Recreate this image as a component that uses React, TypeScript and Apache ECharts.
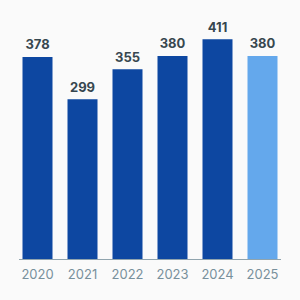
import React, { useEffect, useRef } from "react";
import * as echarts from "echarts";

const years = ["2020", "2021", "2022", "2023", "2024", "2025"];
const values = [378, 299, 355, 380, 411, 380];
const highlight = [false, false, false, false, false, true];

export default function App() {
  const ref = useRef<HTMLDivElement>(null);
  useEffect(() => {
    const chart = echarts.init(ref.current!, null, { renderer: "svg" });
    chart.setOption({
      animation: false,
      backgroundColor: "#fafafa",
      grid: { left: 15, right: 15, top: 18.5, bottom: 41 },
      xAxis: {
        type: "category",
        data: years,
        axisLine: { show: false },
        axisTick: { show: false },
        axisLabel: {
          color: "#78909c",
          fontSize: 13,
          fontFamily: "Inter",
          margin: 8,
        },
      },
      yAxis: {
        type: "value",
        min: 0,
        max: 450,
        show: false,
        splitLine: { show: false },
      },
      graphic: [
        {
          type: "line",
          shape: { x1: 19, y1: 259.5, x2: 281, y2: 259.5 },
          style: { stroke: "#90a4ae", lineWidth: 1 },
          z: 10,
        },
      ],
      series: [
        {
          type: "bar",
          barWidth: 30,
          data: values.map((v, i) => ({
            value: v,
            itemStyle: { color: highlight[i] ? "#64a8ec" : "#0d47a1" },
          })),
          label: {
            show: true,
            position: "top",
            distance: 6,
            color: "#37474f",
            fontSize: 13,
            fontWeight: "bold",
            fontFamily: "Inter",
          },
        },
      ],
    });
    return () => chart.dispose();
  }, []);
  return <div ref={ref} style={{ width: 300, height: 300, position: "absolute", left: 0, top: 0 }} />;
}
